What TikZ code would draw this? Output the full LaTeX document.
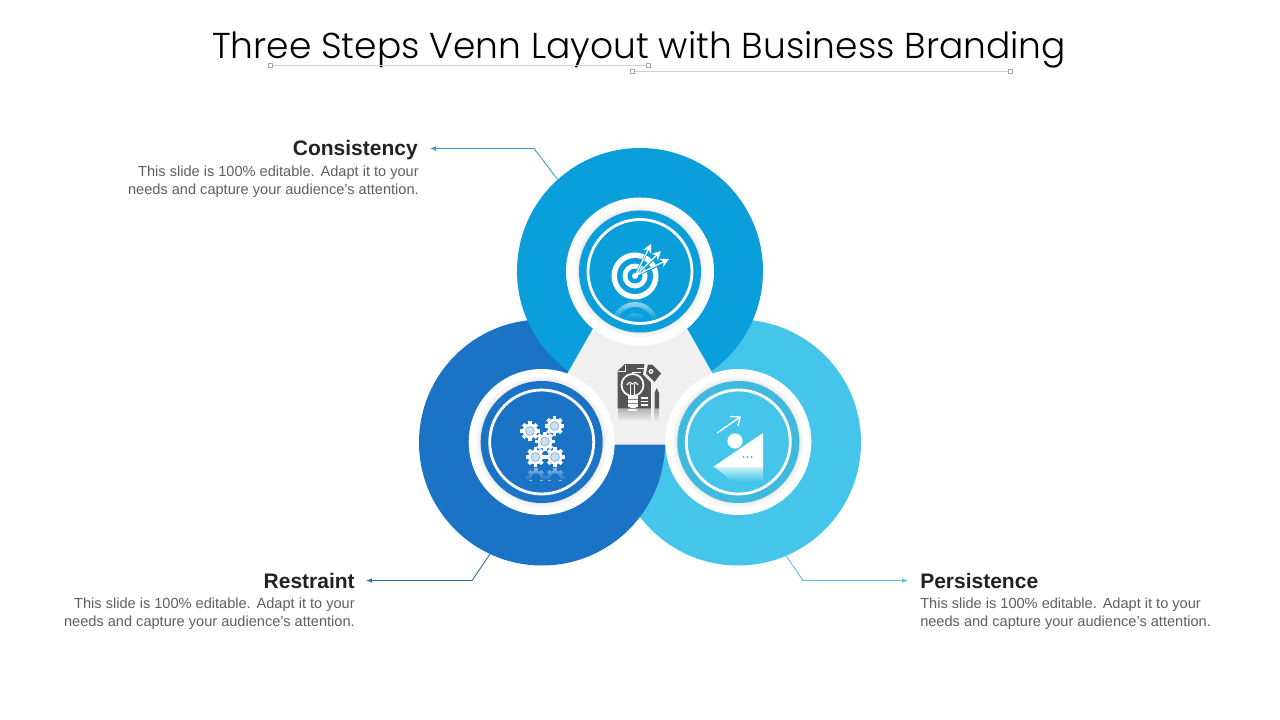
\documentclass[tikz,border=0pt]{standalone}
\usepackage{fontspec}
\setmainfont{Liberation Sans}
\newfontfamily\titlefont{Poppins Light}
\usetikzlibrary{arrows.meta,fadings,calc}
\definecolor{cTop}{HTML}{0A9FDA}
\definecolor{cLeft}{HTML}{1A73C4}
\definecolor{cRight}{HTML}{45C5E9}
\definecolor{cRightBand}{HTML}{3FBADE}
\definecolor{cCore}{HTML}{F0F0F0}
\definecolor{cIcon}{HTML}{555555}
\definecolor{cHead}{HTML}{222222}
\definecolor{cBody}{HTML}{5F5F5F}
\definecolor{cGuide}{HTML}{D0D0D0}
\definecolor{cLinkTop}{HTML}{3C9CC0}
\definecolor{cLinkLeft}{HTML}{2A6DA8}
\definecolor{cLinkRight}{HTML}{62BBD4}
\tikzset{
  petal/.style={circle,inner sep=0pt,minimum size=184.5pt},
  heading/.style={inner sep=0pt,font=\fontsize{15.75pt}{18pt}\selectfont\bfseries,text=cHead},
  bodytext/.style={inner sep=0pt,font=\fontsize{10.93pt}{13.5pt}\selectfont,text=cBody},
  link/.style={line width=0.65pt,-{Latex[length=4.5pt,width=3.5pt]}},
  handle/.style={draw=cGuide!80!black,fill=white,line width=0.4pt,minimum size=3.2pt,inner sep=0pt,rectangle},
  guide/.style={draw=cGuide,line width=0.6pt},
}
% centre x, y, outer radius, band colour
\newcommand{\ringset}[4]{%
  \fill[white] (#1,#2) circle (#3);
  \foreach \r/\k in {66/2,65/3,64/4,63/6,62/9}{\fill[black!\k!white] (#1,#2) circle (\r);}
  \fill[#4] (#1,#2) circle (61);
}
\newcommand{\thinring}[4]{%
  \fill[#4] (#1,#2) circle (#3);
}
\newcommand{\thinstroke}[3]{%
  \draw[white,line width=2.1pt] (#1,#2) circle (#3);
}
\newcommand{\cog}[3]{%
  \foreach \a in {0,45,...,315}{\draw[#3,line width=2.7pt] ({#1+5*cos(\a)},{#2+5*sin(\a)}) -- ({#1+9.6*cos(\a)},{#2+9.6*sin(\a)});}
  \fill[#3] (#1,#2) circle (7.4);
}
\newcommand{\cogfull}[2]{%
  \cog{#1}{#2}{white}
  \fill[cLeft!55!white] (#1,#2) circle (4.8);
  \fill[white!78!cLeft] (#1,#2) circle (3.9);
}
\newcommand{\blurb}{This slide is 100\% editable. \hspace{0.4pt}Adapt it to your\\needs and capture your audience\symbol{39}s attention.}
\begin{document}
\begin{tikzpicture}[x=0.75pt,y=-0.75pt]
\useasboundingbox (0,0) rectangle (1280,720);
\fill[white] (0,0) rectangle (1280,720);
% title
\node[anchor=base,inner sep=0pt,font=\titlefont\fontsize{27pt}{32pt}\selectfont,text=black] (title) at (639,59) {Three Steps Venn Layout with Business Branding};
\draw[guide] (270,65.5) -- (648,65.5);
\draw[guide] (632,71.5) -- (1010,71.5);
\node[handle] (h1) at (270,65.5) {};
\node[handle] (h2) at (648,65.5) {};
\node[handle] (h3) at (632,71.5) {};
\node[handle] (h4) at (1010,71.5) {};
% petals
\node[petal,fill=cRight] (pright) at (738,442.5) {};
\node[petal,fill=cLeft] (pleft) at (542,442.5) {};
\node[petal,fill=cTop] (ptop) at (640,271) {};
% core triangle
\fill[cCore] (640,246) -- (527,444.5) -- (753,444.5) -- cycle;
% rings
\ringset{640}{271.5}{74}{cTop}
\ringset{541.7}{442}{73}{cLeft}
\ringset{738.3}{442}{73}{cRightBand}
\thinring{640}{271.5}{52}{cTop}
\thinring{541.7}{442}{52}{cLeft}
\thinring{738.3}{442}{52}{cRight}
% target icon
\begin{scope}
 \clip (610,301) rectangle (665,318);
 \fill[white!60!cTop] (635,325) circle (23);
 \fill[cTop] (635,325) circle (18);
 \fill[white!60!cTop] (635,325) circle (12);
 \fill[cTop] (635,325) circle (7.5);
\end{scope}
\fill[cTop,path fading=north] (608,301) rectangle (664,319);
\fill[white] (635,276) circle (23.5);
\fill[cTop] (635,276) circle (18);
\fill[white] (635,276) circle (12.5);
\fill[cTop] (635,276) circle (7.5);
\foreach \ex/\ey in {650/246,660/253,667/261}{
  \draw[cTop,line width=1.8pt] (635,276) -- (\ex,\ey);
}
\foreach \ex/\ey in {651/244,661/251,669/259}{
  \draw[white,line width=0.9pt,-{Stealth[length=6.5pt,width=6.5pt,inset=2pt]}] (635,276) -- (\ex,\ey);
}
\fill[white] (635,276) circle (3);
% gears icon
\begin{scope}
 \clip (520,467) rectangle (570,480);
 \cog{536}{478}{white!55!cLeft}
 \cog{555}{478}{white!55!cLeft}
 \fill[cLeft] (536,478) circle (4.8);
 \fill[cLeft] (555,478) circle (4.8);
\end{scope}
\fill[cLeft,path fading=north] (520,466.5) rectangle (570,480);
\cogfull{530}{431}
\cogfull{554.5}{426}
\cogfull{545}{441.5}
\cogfull{535.5}{457}
\cogfull{555}{457}
% slope icon
\shade[top color=white!75!cRight,bottom color=cRight] (714,466.5) -- (763,466.5) -- (763,481) -- (732,481) -- cycle;
\fill[white] (713,467) -- (763,433) -- (763,467) -- cycle;
\fill[white] (735,441) circle (7.6);
\draw[white,line width=1pt] (717,433) -- (739.5,417.5);
\draw[white,line width=1pt] (730,416.5) -- (740,417) -- (738,426);
\foreach \dx in {743.5,747.5,751.5}{\fill[cRight] (\dx,457) circle (1.1);}
% thin rings on top of the reflections
\thinstroke{640}{271.5}{52}
\thinstroke{541.7}{442}{52}
\thinstroke{738.3}{442}{52}
% idea document icon
\begin{scope}
 \clip (610,409) rectangle (665,421);
 \fill[cIcon!40!cCore] (617.5,409) rectangle (651,421);
 \fill[cIcon!40!cCore] (654,409) rectangle (659,421);
 \fill[cCore] (628,409) rectangle (637,411);
\end{scope}
\fill[cCore,path fading=north] (610,408.5) rectangle (665,421);
\fill[cIcon] (625,364) -- (651,364) -- (651,408.5) -- (617.5,408.5) -- (617.5,371) -- cycle;
\draw[white,line width=0.7pt] (625,364.5) -- (625,371.5) -- (618,371.5);
\draw[white,line width=1pt] (637,368.5) -- (646,368.5);
\draw[white,line width=1pt] (632,372.5) -- (641,372.5);
% bulb
\draw[white,line width=1.3pt] (632.5,385) circle (11);
\draw[white,line width=0.8pt] (627,385) .. controls (629,381.5) and (631,382) .. (632.5,384) .. controls (634,382) and (636,381.5) .. (638,385);
\draw[white,line width=0.8pt] (630.5,384) -- (630.5,396);
\draw[white,line width=0.8pt] (634.5,384) -- (634.5,396);
\fill[white] (628,396) rectangle (637.5,406.5);
\fill[white] (630,406) rectangle (635.5,408);
\fill[cIcon!70!white] (628,399) rectangle (637.5,400);
\fill[cIcon!70!white] (628,402.5) rectangle (637.5,403.5);
\foreach \ly in {398,401.5,405}{\draw[white,line width=0.9pt] (640.5,\ly) -- (647.5,\ly);}
% tag
\fill[cCore] (651,376) rectangle (654,408.5);
\fill[cCore] (645,361) -- (652,361) -- (664,373.5) -- (654.5,386) -- (643,374.5) -- cycle;
\fill[cIcon] (648,364.5) -- (652,364.5) -- (661,373.5) -- (654.5,382) -- (646,373.5) -- cycle;
\fill[white] (651,371.5) circle (2.4);
\fill[cIcon] (651,371.5) circle (1);
\fill[cIcon] (654.5,393) -- (656.7,388) -- (659,393) -- (659,408.5) -- (654.5,408.5) -- cycle;
% labels
\node[heading,anchor=base east] (hcons) at (418,156) {Consistency};
\node[bodytext,align=right,anchor=east] (bcons) at (419,182) {\blurb};
\node[heading,anchor=base east] (hrest) at (355,588) {Restraint};
\node[bodytext,align=right,anchor=east] (brest) at (355,613.5) {\blurb};
\node[heading,anchor=base west] (hpers) at (920,588) {Persistence};
\node[bodytext,align=left,anchor=west] (bpers) at (920,614) {\blurb};
% connectors
\coordinate (e1) at (534,148.5);
\coordinate (t1) at (430,148.5);
\coordinate (e2) at (472,580.5);
\coordinate (t2) at (366,580.5);
\coordinate (e3) at (803,580.5);
\coordinate (t3) at (908,580.5);
\draw[link,cLinkTop] (ptop.132) -- (e1) -- (t1);
\draw[link,cLinkLeft] (pleft.245.6) -- (e2) -- (t2);
\draw[link,cLinkRight] (pright.293) -- (e3) -- (t3);
\end{tikzpicture}
\end{document}
